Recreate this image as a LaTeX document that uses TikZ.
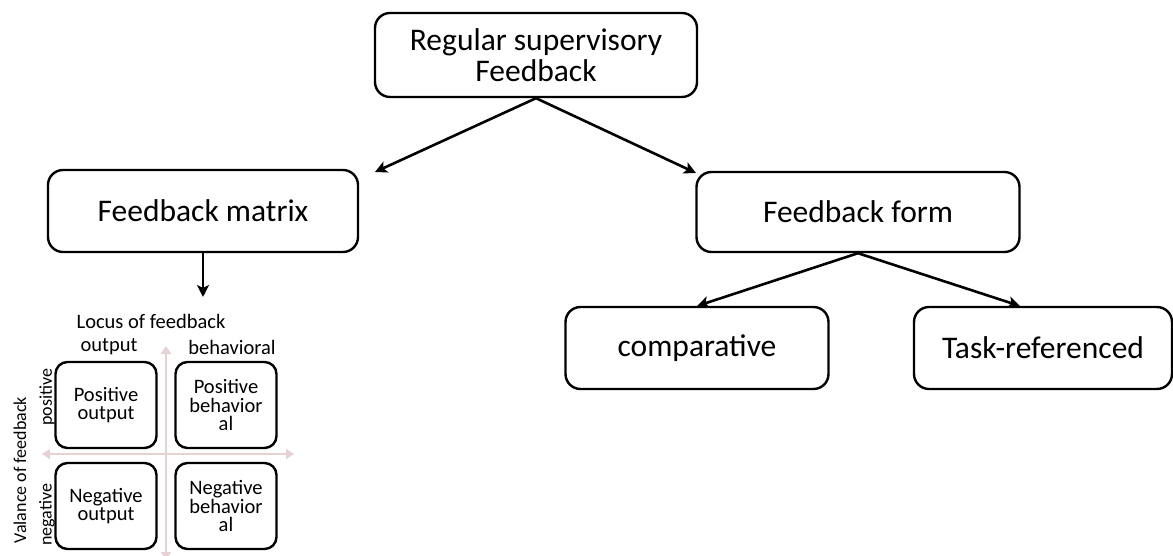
\documentclass[tikz,border=0pt]{standalone}
\usepackage{fontspec}
\setmainfont{Carlito}
\usetikzlibrary{arrows.meta}
\begin{document}
\begin{tikzpicture}[x=1pt,y=-1pt,
  bigbox/.style={draw,line width=2.4pt,rounded corners=15pt,align=center,font=\fontsize{31.5}{30.5}\selectfont,inner sep=0pt},
  smallbox/.style={draw,line width=2.4pt,rounded corners=12pt,align=center,font=\fontsize{20.5}{18.5}\selectfont,inner sep=0pt,minimum width=101pt,minimum height=86pt},
  conn/.style={line width=2.6pt,-{Stealth[length=12pt,width=12pt,inset=3pt]}},
  axis/.style={line width=2.5pt,color=pink!60!gray!50,{Triangle[length=8pt,width=10pt]}-{Triangle[length=8pt,width=10pt]}},
  lbl/.style={font=\fontsize{20.5}{22}\selectfont,inner sep=0pt},
  rlbl/.style={font=\fontsize{18}{20}\selectfont,inner sep=0pt,rotate=90}]
\useasboundingbox (0,0) rectangle (1173,556);
\node[bigbox,minimum width=322pt,minimum height=84pt] (top) at (536,55) {Regular supervisory\\Feedback};
\node[bigbox,minimum width=310pt,minimum height=82pt] (matrix) at (203,211) {Feedback matrix};
\node[bigbox,minimum width=323pt,minimum height=80pt] (form) at (858,212) {Feedback form};
\node[bigbox,minimum width=263pt,minimum height=82pt] (comp) at (697,348) {comparative};
\node[bigbox,minimum width=258pt,minimum height=82pt] (task) at (1043,348) {Task-referenced};
\coordinate (mdown) at (203,297);
\draw[conn] (top.south) -- (375,172);
\draw[conn] (top.south) -- (696,173);
\draw[conn] (form.south) -- (697,306);
\draw[conn] (form.south) -- (1020,306);
\draw[conn] (matrix.south) -- (mdown);
% matrix
\coordinate (vt) at (166,346);
\coordinate (vb) at (166,560);
\coordinate (hl) at (42,454);
\coordinate (hr) at (294,454);
\draw[axis] (vt) -- (vb);
\draw[axis] (hl) -- (hr);
\node[lbl] (locus) at (151,321) {Locus of feedback};
\node[lbl] (out) at (109,347) {output};
\node[lbl] (beh) at (232,347) {behavioral};
\node[smallbox] (po) at (106,405) {Positive\\output};
\node[smallbox] (pb) at (226,405) {Positive\\behavior\\al};
\node[smallbox] (no) at (106,506) {Negative\\output};
\node[smallbox] (nb) at (226,506) {Negative\\behavior\\al};
\node[rlbl] (val) at (20,470) {Valance of feedback};
\node[rlbl] (pos) at (47,397) {positive};
\node[rlbl] (neg) at (47,515) {negative};
\end{tikzpicture}
\end{document}
